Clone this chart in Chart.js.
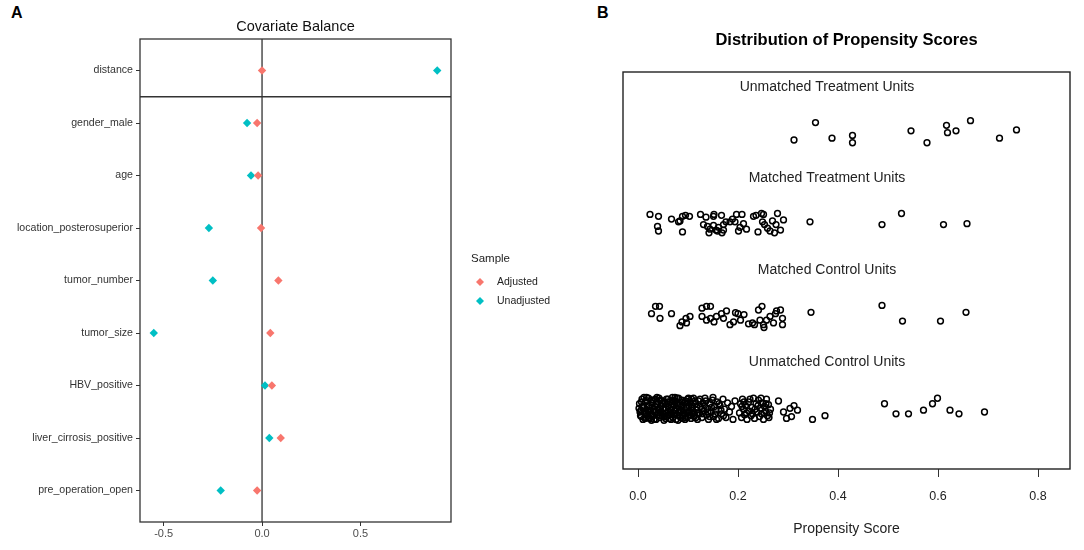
<!DOCTYPE html>
<html>
<head>
<meta charset="utf-8">
<script src="https://cdn.jsdelivr.net/npm/chart.js@4"></script>
<style>
body{margin:0;background:#fff;width:1084px;height:550px;position:relative;overflow:hidden;font-family:"Liberation Sans",Arial,sans-serif;}
canvas{position:absolute;top:0;}
#chartA{left:0;}
#chartB{left:590px;}
.tag{position:absolute;top:4px;font-weight:bold;font-size:16px;color:#000;}
</style>
</head>
<body>
<div class="tag" style="left:11px">A</div>
<div class="tag" style="left:597px">B</div>
<canvas id="chartA" width="590" height="550"></canvas>
<canvas id="chartB" width="494" height="550"></canvas>
<script>
const covariates=["distance","gender_male","age","location_posterosuperior","tumor_number","tumor_size","HBV_positive","liver_cirrosis_positive","pre_operation_open"];
const adjusted=[0.0,-0.025,-0.02,-0.005,0.083,0.042,0.05,0.095,-0.025];
const unadjusted=[0.89,-0.076,-0.056,-0.27,-0.25,-0.55,0.015,0.037,-0.21];
const balanceTicks=[-0.5,0,0.5];

const groupNames=["Unmatched Treatment Units","Matched Treatment Units","Matched Control Units","Unmatched Control Units"];
const groupLabelY=[4,3,2,1];
const groupLabelX=0.378;
const scoreTicks=[0,0.2,0.4,0.6,0.8];

const unmatchedTreat=[[0.312,3.42],[0.355,3.61],[0.388,3.44],[0.429,3.47],[0.429,3.39],[0.546,3.52],[0.578,3.39],[0.617,3.58],[0.619,3.50],[0.636,3.52],[0.665,3.63],[0.723,3.44],[0.757,3.53]];

const matchedTreat=[[0.024,2.61],[0.041,2.59],[0.039,2.48],[0.041,2.43],[0.067,2.56],[0.081,2.53],[0.084,2.54],[0.089,2.59],[0.095,2.60],[0.103,2.59],[0.089,2.42],[0.125,2.61],[0.136,2.58],[0.151,2.59],[0.152,2.61],[0.167,2.60],[0.131,2.50],[0.139,2.48],[0.144,2.45],[0.142,2.41],[0.151,2.49],[0.156,2.44],[0.161,2.47],[0.159,2.43],[0.171,2.50],[0.176,2.53],[0.171,2.44],[0.168,2.41],[0.184,2.53],[0.189,2.56],[0.194,2.53],[0.197,2.61],[0.208,2.61],[0.204,2.47],[0.201,2.43],[0.217,2.45],[0.211,2.51],[0.231,2.59],[0.236,2.60],[0.247,2.62],[0.251,2.61],[0.249,2.53],[0.240,2.42],[0.253,2.50],[0.259,2.46],[0.264,2.43],[0.269,2.54],[0.273,2.41],[0.279,2.62],[0.285,2.44],[0.276,2.50],[0.291,2.55],[0.344,2.53],[0.488,2.50],[0.527,2.62],[0.611,2.50],[0.658,2.51]];

const matchedControl=[[0.035,1.61],[0.043,1.61],[0.027,1.53],[0.044,1.48],[0.067,1.53],[0.084,1.40],[0.088,1.44],[0.096,1.48],[0.104,1.50],[0.097,1.43],[0.128,1.59],[0.137,1.61],[0.145,1.61],[0.128,1.50],[0.137,1.46],[0.145,1.48],[0.152,1.44],[0.157,1.50],[0.167,1.53],[0.171,1.48],[0.177,1.56],[0.184,1.41],[0.191,1.44],[0.195,1.54],[0.200,1.53],[0.205,1.46],[0.212,1.52],[0.221,1.42],[0.229,1.43],[0.233,1.41],[0.241,1.57],[0.248,1.61],[0.244,1.46],[0.251,1.41],[0.252,1.38],[0.257,1.46],[0.264,1.50],[0.271,1.43],[0.275,1.53],[0.277,1.56],[0.285,1.57],[0.289,1.48],[0.289,1.41],[0.346,1.545],[0.488,1.62],[0.529,1.45],[0.605,1.45],[0.656,1.545]];

const unmatchedControl=[[0.003,0.55],[0.005,0.42],[0.006,0.48],[0.008,0.60],[0.010,0.38],[0.011,0.51],[0.013,0.45],[0.015,0.57],[0.016,0.40],[0.018,0.53],[0.020,0.47],[0.021,0.61],[0.023,0.39],[0.024,0.50],[0.026,0.44],[0.028,0.56],[0.029,0.41],[0.031,0.59],[0.033,0.46],[0.034,0.52],
[0.036,0.38],[0.037,0.55],[0.039,0.43],[0.040,0.49],[0.042,0.61],[0.043,0.40],[0.045,0.53],[0.046,0.46],[0.048,0.58],[0.049,0.42],[0.051,0.50],[0.052,0.37],[0.054,0.56],[0.055,0.45],[0.057,0.60],[0.058,0.41],[0.060,0.52],[0.061,0.47],[0.063,0.39],[0.064,0.57],[0.066,0.44],[0.067,0.51],[0.069,0.62],[0.070,0.40],
[0.072,0.54],[0.073,0.47],[0.075,0.58],[0.076,0.38],[0.078,0.50],[0.079,0.43],[0.081,0.61],[0.082,0.46],[0.084,0.55],[0.085,0.40],[0.087,0.52],[0.088,0.59],[0.090,0.42],[0.091,0.48],[0.093,0.56],[0.094,0.38],[0.096,0.51],[0.097,0.45],[0.099,0.60],[0.100,0.41],[0.102,0.53],[0.103,0.47],[0.105,0.57],[0.106,0.39],[0.108,0.50],[0.110,0.44],[0.111,0.61],[0.113,0.42],[0.115,0.55],[0.117,0.48],[0.119,0.38],
[0.004,0.46],[0.009,0.52],[0.014,0.39],[0.019,0.58],[0.025,0.48],[0.030,0.42],[0.035,0.60],[0.041,0.45],[0.047,0.53],[0.053,0.41],[0.059,0.57],[0.065,0.48],[0.071,0.43],[0.077,0.55],[0.083,0.49],[0.089,0.39],[0.095,0.58],[0.101,0.46],[0.107,0.54],[0.112,0.41],[0.118,0.51],[0.012,0.62],[0.027,0.37],[0.044,0.59],[0.062,0.43],[0.080,0.37],[0.098,0.50],[0.114,0.58],[0.056,0.49],[0.074,0.62],
[0.002,0.50],[0.007,0.41],[0.007,0.57],[0.012,0.47],[0.017,0.44],[0.017,0.62],[0.022,0.52],[0.022,0.40],[0.027,0.59],[0.032,0.49],[0.032,0.38],[0.038,0.51],[0.038,0.62],[0.044,0.42],[0.050,0.55],[0.050,0.44],[0.055,0.39],[0.060,0.60],[0.063,0.50],[0.066,0.38],[0.068,0.55],[0.071,0.59],[0.074,0.44],[0.078,0.61],[0.080,0.53],[0.083,0.42],[0.086,0.47],[0.089,0.57],[0.092,0.44],[0.095,0.40],[0.098,0.56],[0.101,0.61],[0.104,0.43],[0.107,0.60],[0.109,0.52],[0.112,0.46],[0.116,0.40],
[0.121,0.58],[0.123,0.45],[0.125,0.52],[0.128,0.40],[0.130,0.56],[0.132,0.47],[0.134,0.61],[0.137,0.43],[0.139,0.50],[0.141,0.38],[0.144,0.55],[0.146,0.46],[0.149,0.59],[0.151,0.41],[0.153,0.52],[0.156,0.48],[0.158,0.57],[0.161,0.39],[0.164,0.53],[0.167,0.44],[0.170,0.60],[0.173,0.49],[0.176,0.40],[0.179,0.56],[0.183,0.46],[0.187,0.52],[0.190,0.38],[0.194,0.58],
[0.120,0.45],[0.124,0.60],[0.127,0.49],[0.129,0.44],[0.133,0.53],[0.136,0.58],[0.140,0.46],[0.143,0.41],[0.147,0.51],[0.150,0.62],[0.154,0.44],[0.157,0.38],[0.162,0.55],[0.166,0.48],[0.171,0.42],
[0.203,0.45],[0.205,0.55],[0.207,0.40],[0.209,0.60],[0.211,0.49],[0.213,0.43],[0.215,0.53],[0.218,0.38],[0.221,0.57],[0.223,0.47],[0.226,0.42],[0.228,0.51],[0.231,0.61],[0.233,0.39],[0.236,0.55],[0.238,0.46],[0.241,0.59],[0.243,0.41],[0.245,0.50],[0.247,0.44],[0.249,0.56],[0.251,0.38],[0.253,0.52],[0.255,0.47],[0.257,0.60],[0.259,0.42],[0.261,0.54],[0.263,0.45],[0.265,0.49],
[0.208,0.52],[0.212,0.57],[0.217,0.45],[0.224,0.60],[0.229,0.44],[0.234,0.49],[0.240,0.53],[0.246,0.61],[0.252,0.45],[0.256,0.55],[0.262,0.40],
[0.281,0.58],[0.291,0.46],[0.304,0.50],[0.312,0.53],[0.319,0.48],[0.297,0.39],[0.307,0.41],[0.349,0.38],[0.374,0.42],[0.493,0.55],[0.516,0.44],[0.541,0.44],[0.571,0.48],[0.589,0.55],[0.599,0.61],[0.624,0.48],[0.642,0.44],[0.693,0.46]];

Chart.defaults.font.family="'Liberation Sans', Arial, sans-serif";
Chart.defaults.animation=false;

const toPts=arr=>arr.map(p=>({x:p[0],y:p[1]}));

// panel A: covariate balance
const balancePlugin={
id:"balanceFrame",
beforeDatasetsDraw(chart){
const {ctx,chartArea:a,scales:{x,y}}=chart;
ctx.save();
ctx.strokeStyle="#333";
ctx.lineWidth=1.3;
ctx.strokeRect(a.left,a.top,a.right-a.left,a.bottom-a.top);
const x0=x.getPixelForValue(0);
const yDiv=y.getPixelForValue(0.5);
ctx.beginPath();
ctx.moveTo(x0,a.top);ctx.lineTo(x0,a.bottom);
ctx.moveTo(a.left,yDiv);ctx.lineTo(a.right,yDiv);
ctx.stroke();
ctx.restore();
},
afterDraw(chart){
const ctx=chart.ctx;
ctx.save();
ctx.fillStyle="#222";
ctx.textBaseline="middle";
ctx.font="11.5px 'Liberation Sans', Arial, sans-serif";
ctx.fillText("Sample",471,259);
ctx.font="10.5px 'Liberation Sans', Arial, sans-serif";
chart.data.datasets.forEach((ds,i)=>{
const cy=282+i*19;
ctx.fillStyle=ds.backgroundColor;
ctx.beginPath();
ctx.moveTo(480,cy-4);ctx.lineTo(484,cy);ctx.lineTo(480,cy+4);ctx.lineTo(476,cy);
ctx.closePath();ctx.fill();
ctx.fillStyle="#222";
ctx.fillText(ds.label,497,cy);
});
ctx.restore();
}
};

new Chart(document.getElementById("chartA"),{
type:"scatter",
data:{
datasets:[
{label:"Adjusted",data:adjusted.map((v,i)=>({x:v,y:i})),backgroundColor:"#F8766D",borderColor:"#F8766D",pointStyle:"rectRot",pointRadius:4.2,borderWidth:0},
{label:"Unadjusted",data:unadjusted.map((v,i)=>({x:v,y:i})),backgroundColor:"#00BFC4",borderColor:"#00BFC4",pointStyle:"rectRot",pointRadius:4.2,borderWidth:0}
]
},
options:{
responsive:false,
layout:{padding:{left:0,right:139,top:0,bottom:0}},
plugins:{
legend:{display:false},
tooltip:{enabled:false},
title:{display:true,fullSize:false,text:"Covariate Balance",color:"#111",font:{size:14.5,weight:"normal"},padding:{top:18.3,bottom:3.3}}
},
scales:{
x:{
type:"linear",min:-0.62,max:0.96,
afterBuildTicks:s=>{s.ticks=balanceTicks.map(v=>({value:v}));},
afterFit:s=>{s.height=28;},
grid:{display:true,drawOnChartArea:false,drawTicks:true,tickLength:4,color:"#333"},
border:{display:false},
ticks:{color:"#4d4d4d",font:{size:11},padding:1.5,callback:v=>v.toFixed(1)}
},
y:{
type:"linear",min:-0.6,max:8.6,reverse:true,
afterBuildTicks:s=>{s.ticks=covariates.map((c,i)=>({value:i}));},
afterFit:s=>{s.width=140;},
grid:{display:true,drawOnChartArea:false,drawTicks:true,tickLength:4,color:"#333"},
border:{display:false},
ticks:{color:"#333",font:{size:10.6},padding:3,callback:v=>covariates[v]}
}
}
},
plugins:[balancePlugin]
});

// panel B: propensity score distribution
const jitterPlugin={
id:"jitterFrame",
beforeDatasetsDraw(chart){
const {ctx,chartArea:a}=chart;
ctx.save();
ctx.strokeStyle="#222";
ctx.lineWidth=1.4;
ctx.strokeRect(a.left,a.top,a.right-a.left,a.bottom-a.top);
ctx.restore();
},
afterDraw(chart){
const {ctx,scales:{x,y}}=chart;
ctx.save();
ctx.fillStyle="#222";
ctx.font="14px 'Liberation Sans', Arial, sans-serif";
ctx.textAlign="center";
ctx.textBaseline="middle";
groupNames.forEach((g,i)=>{
ctx.fillText(g,x.getPixelForValue(groupLabelX),y.getPixelForValue(groupLabelY[i]));
});
ctx.restore();
}
};

const circleSet=arr=>({data:toPts(arr),pointStyle:"circle",pointRadius:2.9,borderWidth:1.5,borderColor:"#000",backgroundColor:"rgba(0,0,0,0)"});

new Chart(document.getElementById("chartB"),{
type:"scatter",
data:{
datasets:[circleSet(unmatchedTreat),circleSet(matchedTreat),circleSet(matchedControl),circleSet(unmatchedControl)]
},
options:{
responsive:false,
layout:{padding:{left:33,right:14,top:0,bottom:0}},
plugins:{
legend:{display:false},
tooltip:{enabled:false},
title:{display:true,text:"Distribution of Propensity Scores",color:"#000",font:{size:16.5,weight:"bold"},padding:{top:30.1,bottom:22.1}}
},
scales:{
x:{
type:"linear",min:-0.03,max:0.864,
afterBuildTicks:s=>{s.ticks=scoreTicks.map(v=>({value:v}));},
afterFit:s=>{s.height=81;},
grid:{display:true,drawOnChartArea:false,drawTicks:true,tickLength:8,color:"#333"},
border:{display:false},
ticks:{color:"#222",font:{size:12.5},padding:12.5,callback:v=>v.toFixed(1)},
title:{display:true,text:"Propensity Score",color:"#222",font:{size:14},padding:{top:0,bottom:12.6}}
},
y:{type:"linear",min:-0.16,max:4.16,display:false}
}
},
plugins:[jitterPlugin]
});
</script>
</body>
</html>
